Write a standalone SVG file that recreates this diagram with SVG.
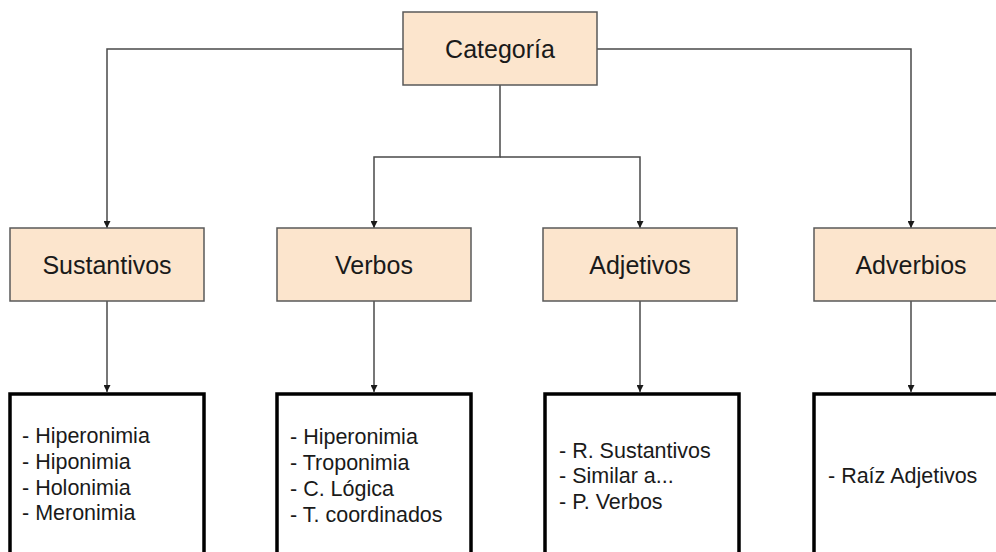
<svg xmlns="http://www.w3.org/2000/svg" width="996" height="552" viewBox="0 0 996 552">
  <style>
    .cat { fill: #fce5cd; stroke: #595959; stroke-width: 1.5; }
    .list { fill: #ffffff; stroke: #000000; stroke-width: 3.5; }
    .lbl { font-family: "Liberation Sans", Arial, sans-serif; font-size: 25px; fill: #1a1a1a; text-anchor: middle; }
    .item { font-family: "Liberation Sans", Arial, sans-serif; font-size: 21.5px; fill: #1a1a1a; }
    .conn { fill: none; stroke: #4a4a4a; stroke-width: 1.5; marker-end: url(#arrow); }
  </style>
  <defs>
    <marker id="arrow" viewBox="0 0 10 10" refX="10" refY="5" markerWidth="7" markerHeight="7" markerUnits="userSpaceOnUse" orient="auto">
      <path d="M0,0 L10,5 L0,10 z" fill="#1a1a1a"/>
    </marker>
  </defs>
  <rect width="996" height="552" fill="#ffffff"/>

  <g id="connectors">
    <path class="conn" d="M403,49 H107 V228"/>
    <path class="conn" d="M597,49 H911 V228"/>
    <path class="conn" d="M500,85 V157 H374 V228"/>
    <path class="conn" d="M500,157 H640 V228"/>
    <path class="conn" d="M107,301 V392"/>
    <path class="conn" d="M374,301 V392"/>
    <path class="conn" d="M640,301 V392"/>
    <path class="conn" d="M911,301 V392"/>
  </g>

  <g id="categoria">
    <rect class="cat" x="403" y="12" width="194" height="73"/>
    <text class="lbl" x="500" y="58">Categoría</text>
  </g>

  <g id="sustantivos">
    <rect class="cat" x="10" y="228" width="194" height="73"/>
    <text class="lbl" x="107" y="274">Sustantivos</text>
  </g>
  <g id="verbos">
    <rect class="cat" x="277" y="228" width="194" height="73"/>
    <text class="lbl" x="374" y="274">Verbos</text>
  </g>
  <g id="adjetivos">
    <rect class="cat" x="543" y="228" width="194" height="73"/>
    <text class="lbl" x="640" y="274">Adjetivos</text>
  </g>
  <g id="adverbios">
    <rect class="cat" x="814" y="228" width="194" height="73"/>
    <text class="lbl" x="911" y="274">Adverbios</text>
  </g>

  <g id="sustantivos-rel">
    <rect class="list" x="10" y="394" width="194" height="180"/>
    <text class="item" x="22" y="443">- Hiperonimia</text>
    <text class="item" x="22" y="469">- Hiponimia</text>
    <text class="item" x="22" y="494.5">- Holonimia</text>
    <text class="item" x="22" y="520">- Meronimia</text>
  </g>
  <g id="verbos-rel">
    <rect class="list" x="277" y="394" width="194" height="180"/>
    <text class="item" x="290" y="444">- Hiperonimia</text>
    <text class="item" x="290" y="470">- Troponimia</text>
    <text class="item" x="290" y="496">- C. Lógica</text>
    <text class="item" x="290" y="522">- T. coordinados</text>
  </g>
  <g id="adjetivos-rel">
    <rect class="list" x="545" y="394" width="194" height="180"/>
    <text class="item" x="559" y="458">- R. Sustantivos</text>
    <text class="item" x="559" y="483">- Similar a...</text>
    <text class="item" x="559" y="509">- P. Verbos</text>
  </g>
  <g id="adverbios-rel">
    <rect class="list" x="814" y="394" width="194" height="180"/>
    <text class="item" x="828" y="483">- Raíz Adjetivos</text>
  </g>
</svg>
